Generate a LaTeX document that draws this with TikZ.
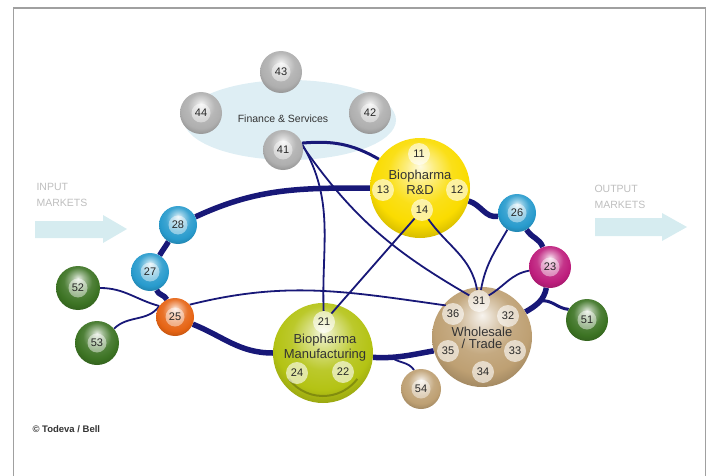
\documentclass[tikz,border=0pt]{standalone}
\usepackage{fontspec}
\setmainfont{Liberation Sans}
\usetikzlibrary{shapes.geometric,calc}
\pgfdeclarelayer{bgl}
\pgfdeclarelayer{ringl}
\pgfdeclarelayer{bigl}
\pgfdeclarelayer{thinl}
\pgfsetlayers{bgl,ringl,bigl,thinl,main}
\definecolor{navy}{RGB}{24,24,120}
\definecolor{fgray}{RGB}{175,175,175}
\definecolor{sblue}{RGB}{40,155,205}
\definecolor{smag}{RGB}{190,30,125}
\definecolor{sgreen}{RGB}{60,115,35}
\definecolor{sorange}{RGB}{230,100,20}
\definecolor{rdc}{RGB}{250,220,0}
\definecolor{mfc}{RGB}{180,195,20}
\definecolor{wsc}{RGB}{190,160,115}
\definecolor{finc}{RGB}{222,238,244}
\definecolor{arrc}{RGB}{214,236,240}
\definecolor{mkt}{RGB}{190,190,190}
\definecolor{framec}{RGB}{160,160,160}
\colorlet{sphc}{gray}
\pgfdeclareradialshading[sphc]{sphere}{\pgfqpoint{0bp}{11bp}}{%
  color(0bp)=(sphc!12!white); color(7bp)=(sphc!50!white); color(16bp)=(sphc!90!white);
  color(24bp)=(sphc); color(31bp)=(sphc!82!black); color(40bp)=(sphc!62!black); color(50bp)=(sphc!55!black)}
\begin{document}
\begin{tikzpicture}[x=1pt,y=1pt,
  sph/.style={shade,shading=sphere,/utils/exec={\colorlet{sphc}{#1}}},
  sball/.style 2 args={circle,inner sep=0pt,minimum size=#2,sph=#1,
    text=black!85,font=\fontsize{11}{12}\selectfont,
    path picture={\fill[white,fill opacity=0.45] (path picture bounding box.center) circle (9.5pt);}},
  sub/.style={circle,inner sep=0pt,minimum size=22pt,fill=white,fill opacity=0.6,
    text opacity=1,text=black!85,font=\fontsize{11}{12}\selectfont},
  bigball/.style={circle,inner sep=0pt,minimum size=100pt,sph=#1},
  biglabel/.style={align=center,text=black!80,font=\fontsize{13}{15}\selectfont},
  mktext/.style={anchor=west,align=left,text=mkt,font=\fontsize{10.5}{15.5}\selectfont},
  ring/.style={draw=navy,line width=5.5pt},
  medline/.style={draw=navy,line width=3pt},
  thinline/.style={draw=navy,line width=1.8pt}]
\useasboundingbox (0,0) rectangle (707,475);
% frame
\draw[framec,line width=1.8pt] (13.5,-2) -- (13.5,467) -- (705.5,467) -- (705.5,-2);
% markets arrows and texts
\fill[arrc] (35,237) -- (103,237) -- (103,232) -- (127,246) -- (103,260) -- (103,254) -- (35,254) -- cycle;
\fill[arrc] (595,239) -- (662,239) -- (662,234) -- (687,248) -- (662,262) -- (662,257) -- (595,257) -- cycle;
\node[mktext] (intext) at (33,280) {INPUT\\MARKETS};
\node[mktext] (outtext) at (591,278) {OUTPUT\\MARKETS};
\node[anchor=west,text=black!80,font=\bfseries\fontsize{9.5}{11}\selectfont] (copy) at (29,46) {© Todeva / Bell};
% finance cluster
\begin{pgfonlayer}{bgl}
\node[ellipse,fill=finc,minimum width=212pt,minimum height=80pt,inner sep=0pt] (fin) at (290,355) {};
\end{pgfonlayer}
\node[text=black!80,font=\fontsize{10.5}{12}\selectfont] (fintext) at (283,356) {Finance \& Services};
\node[sball={fgray}{42pt}] (f43) at (281,403) {43};
\node[sball={fgray}{42pt}] (f44) at (201,362) {44};
\node[sball={fgray}{42pt}] (f42) at (370,362) {42};
\node[sball={fgray}{40pt}] (f41) at (283,325) {41};
% big spheres
\begin{pgfonlayer}{bigl}
\node[bigball=rdc] (rd) at (420,287) {};
\node[bigball=mfc] (mf) at (323,122) {};
\node[bigball=wsc] (ws) at (482,138) {};
\draw[mfc!45!black,line width=2pt,opacity=0.45] ($(mf.center)+(-143:43)$) arc[start angle=-143,end angle=-37,radius=43];
\end{pgfonlayer}
\node[biglabel] (rdlab) at (420,292.5) {Biopharma\\R\&D};
\node[biglabel] (mflab) at (325,127.5) {Biopharma\\Manufacturing};
\node[biglabel,font=\fontsize{13}{12}\selectfont] (wslab) at (482,137.5) {Wholesale\\/ Trade};
% sub circles
\node[sub] (n11) at (419,321) {11};
\node[sub] (n13) at (383,285) {13};
\node[sub] (n12) at (457,285) {12};
\node[sub] (n14) at (422,265) {14};
\node[sub] (n21) at (324,153) {21};
\node[sub] (n24) at (297,102) {24};
\node[sub] (n22) at (343,103) {22};
\node[sub] (n31) at (479,174) {31};
\node[sub] (n36) at (453,161) {36};
\node[sub] (n32) at (508,159) {32};
\node[sub] (n35) at (448,124) {35};
\node[sub] (n33) at (515,124) {33};
\node[sub] (n34) at (483,103) {34};
% small spheres
\node[sball={sblue}{38pt}] (s26) at (517,262) {26};
\node[sball={smag}{42pt}] (s23) at (550,208) {23};
\node[sball={sgreen}{42pt}] (s51) at (587,155) {51};
\node[sball={sblue}{38pt}] (s28) at (178,250) {28};
\node[sball={sblue}{38pt}] (s27) at (150,203) {27};
\node[sball={sgreen}{44pt}] (s52) at (78,187) {52};
\node[sball={sgreen}{44pt}] (s53) at (97,132) {53};
\node[sball={sorange}{38pt}] (s25) at (175,158) {25};
\node[sball={wsc}{40pt}] (s54) at (421,86) {54};
% thick ring
\begin{pgfonlayer}{ringl}
\draw[ring] (s28) to[out=25,in=180] (rd);
\draw[ring] (rd) to[out=-15,in=190] (s26);
\draw[ring] (s26) to[out=-60,in=110] (s23);
\draw[ring] (s23) to[out=-100,in=30] coordinate[pos=0.45] (b51) (ws);
\draw[medline] (b51) to[out=10,in=175] (s51.150);
\draw[ring] (ws.196) to[out=190,in=-3] coordinate[pos=0.72] (b54) (mf.-5);
\draw[thinline] (b54) to[out=-35,in=125] (s54.110);
\draw[ring] (s25) to[out=-22,in=180] (mf);
\draw[ring] (s27) to[out=-70,in=115] (s25);
\draw[ring] (s27) to[out=60,in=-120] (s28);
\end{pgfonlayer}
% thin links
\begin{pgfonlayer}{thinl}
\draw[medline] (f41.20) to[out=5,in=150] (rd.145);
\draw[thinline] (f41.15) to[out=-60,in=92] (n21);
\draw[thinline] (f41.10) to[out=-55,in=150] (n31);
\draw[thinline] (n14) -- (n21);
\draw[thinline] (n14) to[out=-55,in=100] (n31);
\draw[thinline] (s26) to[out=-120,in=80] (n31);
\draw[thinline] (s23) to[out=190,in=30] (n31);
\draw[thinline] (s25.40) to[out=14,in=172] (n36.130);
\draw[thinline] (s52) to[out=0,in=165] (s25.145);
\draw[thinline] (s53.40) to[out=45,in=-125] (s25.145);
\end{pgfonlayer}
\end{tikzpicture}
\end{document}
